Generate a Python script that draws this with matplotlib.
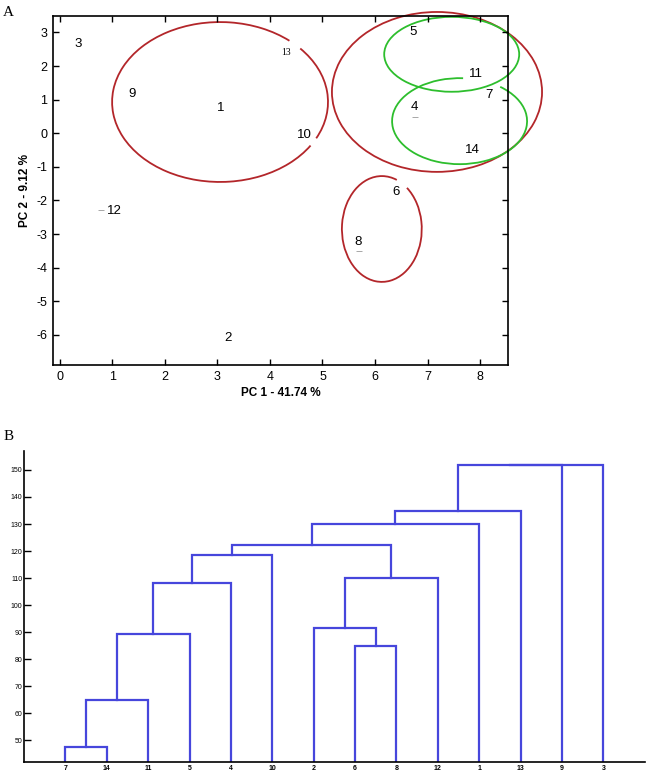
import numpy as np
import matplotlib
matplotlib.use('Agg')
import matplotlib.pyplot as plt
from matplotlib.patches import Arc

plt.rcParams['font.family'] = ['Liberation Sans', 'DejaVu Sans']
plt.rcParams['axes.unicode_minus'] = False

# panel A - PCA scores
samples = ['1', '2', '3', '4', '5', '6', '7', '8', '9', '10', '11', '12', '13', '14']
pc1 = [3.07, 3.2, 0.34, 6.74, 6.72, 6.4, 8.17, 5.68, 1.37, 4.65, 7.92, 1.03, 4.3, 7.85]
pc2 = [0.75, -6.1, 2.66, 0.78, 3.0, -1.75, 1.13, -3.23, 1.17, -0.05, 1.77, -2.31, 2.39, -0.5]

# faint point markers seen under some labels
dot_x = [6.76, 5.70, 0.78]
dot_y = [0.49, -3.50, -2.28]

# grouping ellipses (center, width, height, colour, gaps in parametric degrees)
ell_cx = [3.05, 7.18, 6.13, 7.46, 7.61]
ell_cy = [0.93, 1.23, -2.85, 2.35, 0.36]
ell_w = [4.11, 4.0, 1.52, 2.57, 2.57]
ell_h = [4.76, 4.76, 3.15, 2.23, 2.56]
ell_col = ['#b3262a', '#b3262a', '#b3262a', '#2dbe2d', '#2dbe2d']
ell_gaps = [[(-33, -27), (42, 50)], [], [(51, 68)], [], [(53, 87)]]

# panel B - dendrogram
leaf_labels = ['7', '14', '11', '5', '4', '10', '2', '6', '8', '12', '1', '13', '9', '3']
link_left = ['7', 'c1', 'c2', 'c3', 'c4', '6', '2', 'c7', 'c5', 'c9', 'c10', 'c11', 'c12']
link_right = ['14', '11', '5', '4', '10', '8', 'c6', '12', 'c8', '1', '13', '9', '3']
link_height = [47.7, 65.0, 89.3, 108.3, 118.5, 84.9, 91.7, 110.1, 122.2, 129.9, 134.8, 151.7, 152.0]


def geo_angle(t, w, h):
    t = np.deg2rad(t)
    return np.rad2deg(np.arctan2(h * np.sin(t), w * np.cos(t)))


fig = plt.figure(figsize=(6.48, 7.76), dpi=100)

# ---------------- A ----------------
ax = fig.add_axes([0.0818, 0.5296, 0.702, 0.4502])
for lab, x, y in zip(samples, pc1, pc2):
    if lab == '13':
        ax.text(x, y, lab, ha='center', va='center', fontsize=7, family='Liberation Serif')
    else:
        ax.text(x, y, lab, ha='center', va='center', fontsize=9.5)
ax.plot(dot_x, dot_y, ls='none', marker='_', ms=4, mew=0.6, color='#999999')

for cx, cy, w, h, col, gaps in zip(ell_cx, ell_cy, ell_w, ell_h, ell_col, ell_gaps):
    if not gaps:
        ax.add_patch(Arc((cx, cy), w, h, theta1=0, theta2=360, color=col, lw=1.3, clip_on=False))
        continue
    gaps = sorted(gaps)
    for i in range(len(gaps)):
        start = gaps[i][1]
        end = gaps[(i + 1) % len(gaps)][0]
        if end <= start:
            end += 360
        ax.add_patch(Arc((cx, cy), w, h, theta1=geo_angle(start, w, h), theta2=geo_angle(end, w, h),
                         color=col, lw=1.3, clip_on=False))

ax.set_xlim(-0.13, 8.53)
ax.set_ylim(-6.9, 3.5)
ax.set_xticks(range(0, 9))
ax.set_yticks(range(-6, 4))
ax.tick_params(direction='in', top=True, right=True, length=4, width=1, labelsize=9, pad=4)
for sp in ax.spines.values():
    sp.set_linewidth(1.2)
ax.set_xlabel('PC 1 - 41.74 %', fontsize=8.5, fontweight='bold', labelpad=3)
ax.set_ylabel('PC 2 - 9.12 %', fontsize=8.5, fontweight='bold', labelpad=4)

fig.text(0.005, 0.992, 'A', fontsize=11, family='Liberation Serif', va='top', ha='left')
fig.text(0.005, 0.446, 'B', fontsize=11, family='Liberation Serif', va='top', ha='left')

# ---------------- B ----------------
bx = fig.add_axes([0.037, 0.018, 0.958, 0.4008])
pos = {lab: i + 1 for i, lab in enumerate(leaf_labels)}
hgt = {lab: 0 for lab in leaf_labels}
for i, (l, r, h) in enumerate(zip(link_left, link_right, link_height)):
    xl, xr = pos[l], pos[r]
    bx.plot([xl, xl, xr, xr], [hgt[l], h, h, hgt[r]], color='#4646dc', lw=1.6,
            solid_joinstyle='miter')
    key = 'c%d' % (i + 1)
    pos[key] = (xl + xr) / 2
    hgt[key] = h

bx.set_xlim(0, 15)
bx.set_ylim(42, 157)
bx.set_xticks(range(1, len(leaf_labels) + 1))
bx.set_xticklabels(leaf_labels, fontsize=5, fontweight='bold')
bx.set_yticks(range(50, 151, 10))
bx.set_yticklabels([str(v) for v in range(50, 151, 10)], fontsize=5)
bx.tick_params(axis='x', length=0, pad=2)
bx.tick_params(axis='y', direction='in', length=5, width=1, pad=1)
bx.spines['top'].set_visible(False)
bx.spines['right'].set_visible(False)
bx.spines['left'].set_linewidth(1.2)
bx.spines['bottom'].set_linewidth(1.2)

fig.savefig('out.png', dpi=100)
